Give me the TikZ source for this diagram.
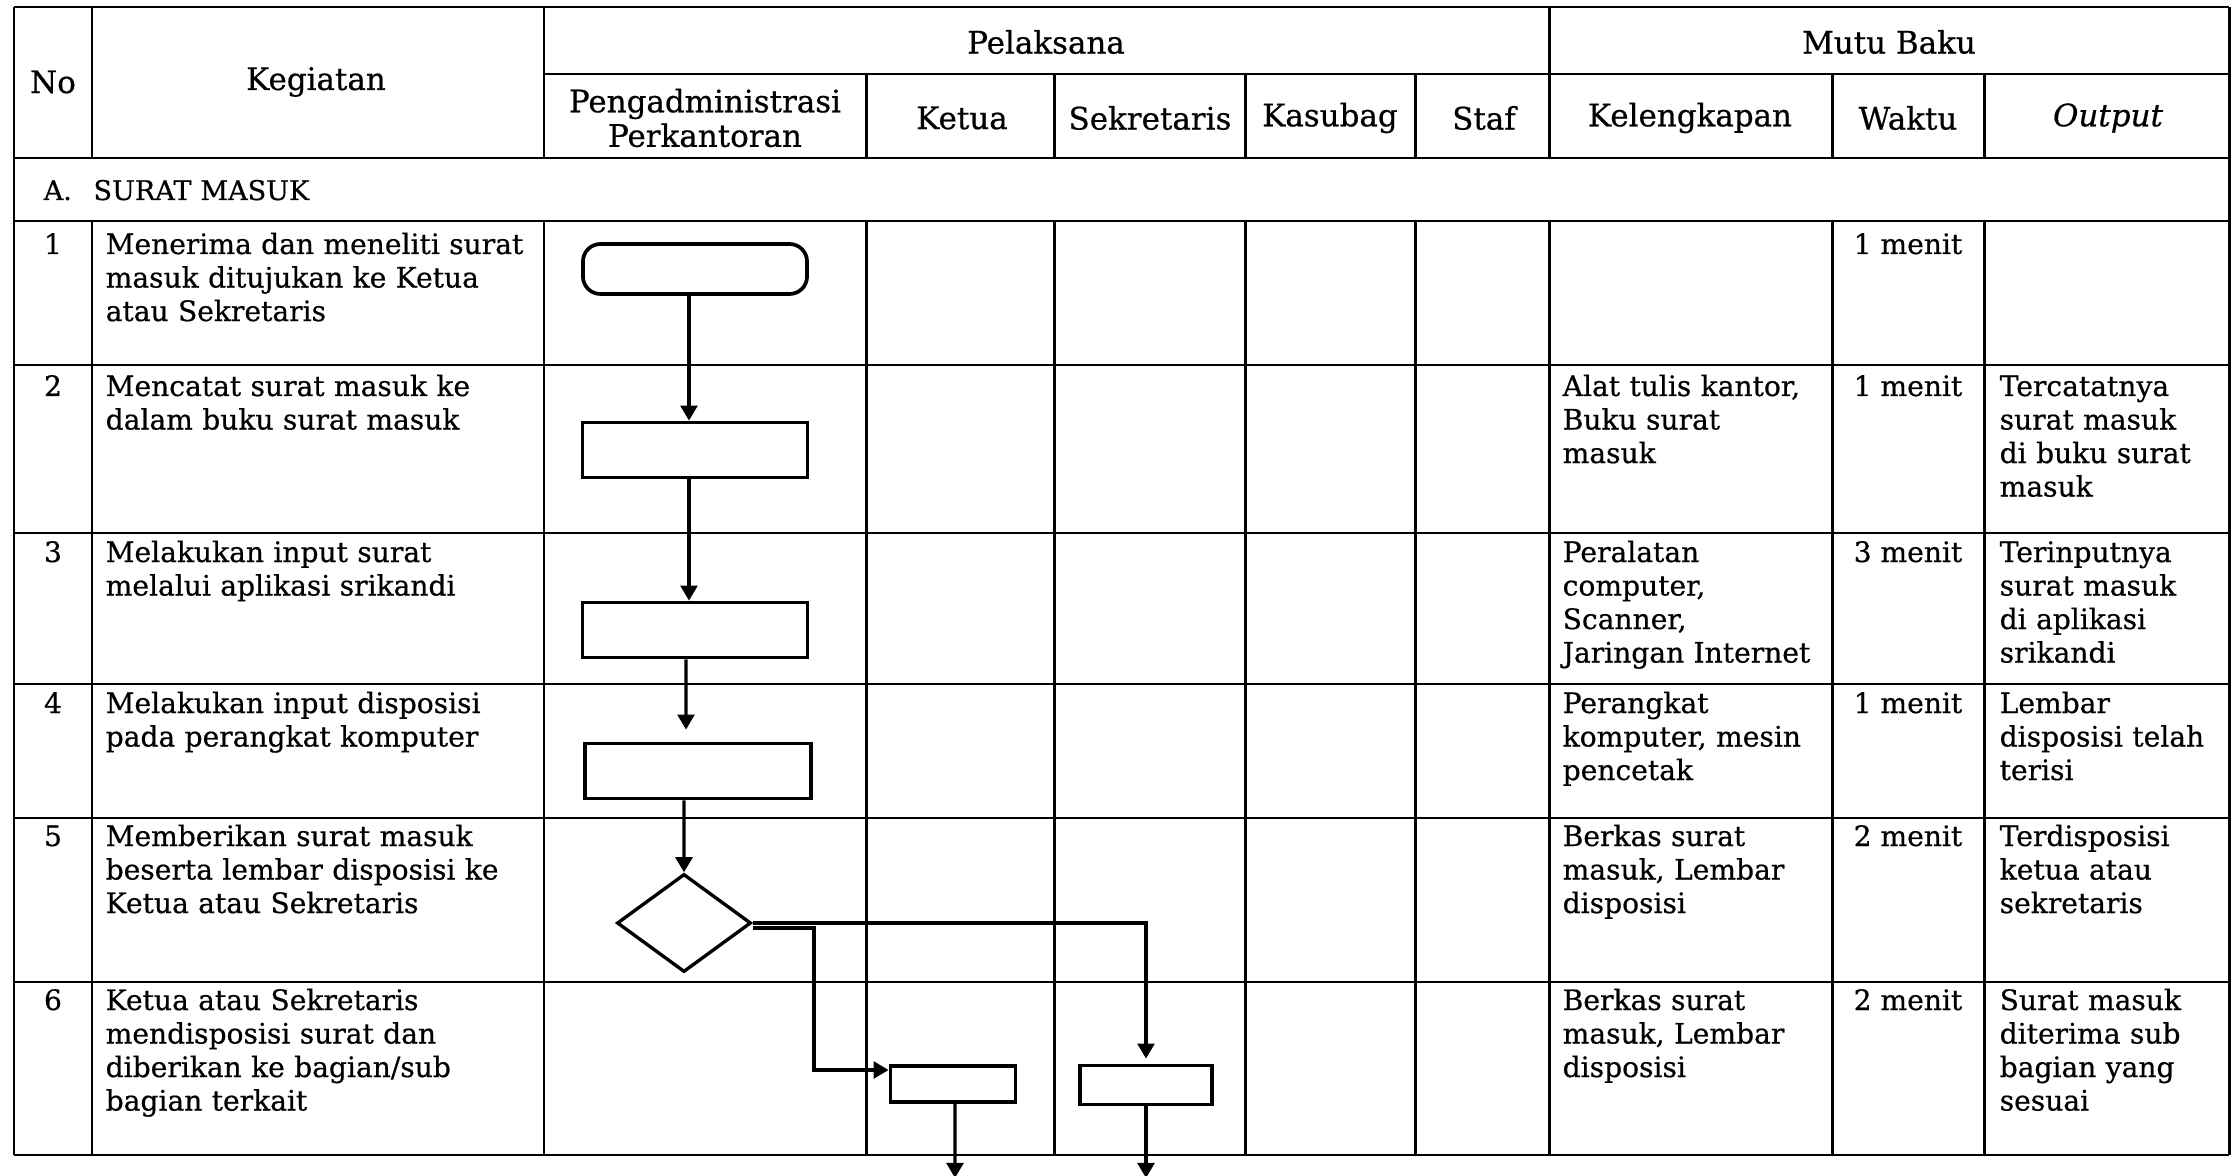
\documentclass[tikz,border=0pt]{standalone}
\usepackage{fontspec}
\setmainfont[FakeBold=0.6]{DejaVu Serif}
\usetikzlibrary{arrows.meta,shapes.geometric,calc}
\newcommand\bodyfnt{\fontsize{8}{9.53}\selectfont}
\newcommand\headfnt{\fontsize{8.8}{9.8}\selectfont}
\newcommand\secfnt{\fontsize{7.7}{9}\selectfont}
\begin{document}
\begin{tikzpicture}[x=0.01cm,y=-0.01cm,
  grid/.style={line width=0.85pt},
  proc/.style={draw,line width=1.05pt,fill=white,inner sep=0pt},
  arr/.style={line width=0.9pt,-{Triangle[length=4.3pt,width=4.8pt]}},
  txt/.style={anchor=base west,inner sep=0pt,align=left,text width=5cm,font=\bodyfnt},
  num/.style={anchor=base,inner sep=0pt,font=\bodyfnt},
  head/.style={inner sep=0pt,align=center,font=\headfnt}]
\useasboundingbox (0,0) rectangle (2232,1176);
% ---- table grid
\draw[grid] (14,7) -- (2229,7);
\draw[grid] (544,74) -- (2229,74);
\draw[grid] (14,158) -- (2229,158);
\draw[grid] (14,221) -- (2229,221);
\foreach \y in {365,533,684,818,982,1155} \draw[grid] (14,\y) -- (2229,\y);
\draw[grid] (14,7) -- (14,1155);
\draw[grid] (2229,7) -- (2229,1155);
\foreach \x in {92,544,1549} {\draw[grid] (\x,7) -- (\x,158); \draw[grid] (\x,221) -- (\x,1155);}
\foreach \x in {866,1054,1245,1415,1832,1984} {\draw[grid] (\x,74) -- (\x,158); \draw[grid] (\x,221) -- (\x,1155);}
% ---- header
\node[head] (hno) at (53,82) {No};
\node[head] (hkeg) at (316,82) {Kegiatan};
\node[head] (hpel) at (1046,42) {Pelaksana};
\node[head] (hmutu) at (1889,42) {Mutu Baku};
\node[head] (hpeng) at (705,118) {Pengadministrasi\\Perkantoran};
\node[head] (hket) at (962,118) {Ketua};
\node[head] (hsek) at (1150,118) {Sekretaris};
\node[head] (hkas) at (1330,118) {Kasubag};
\node[head] (hstaf) at (1484,118) {Staf};
\node[head] (hkel) at (1690,118) {Kelengkapan};
\node[head] (hwak) at (1908,118) {Waktu};
\node[head] (hout) at (2108,118) {\itshape Output};
\node[txt,font=\secfnt] (sec) at (43,200) {A.\hspace{0.8em}SURAT MASUK};
% ---- row texts
\node[num] (n1) at (53,254) {1};
\node[num] (n2) at (53,396) {2};
\node[num] (n3) at (53,562) {3};
\node[num] (n4) at (53,713) {4};
\node[num] (n5) at (53,846) {5};
\node[num] (n6) at (53,1010) {6};
\node[txt] (k1) at (105,254) {Menerima dan meneliti surat\\masuk ditujukan ke Ketua\\atau Sekretaris};
\node[txt] (k2) at (105,396) {Mencatat surat masuk ke\\dalam buku surat masuk};
\node[txt] (k3) at (105,562) {Melakukan input surat\\melalui aplikasi srikandi};
\node[txt] (k4) at (105,713) {Melakukan input disposisi\\pada perangkat komputer};
\node[txt] (k5) at (105,846) {Memberikan surat masuk\\beserta lembar disposisi ke\\Ketua atau Sekretaris};
\node[txt] (k6) at (105,1010) {Ketua atau Sekretaris\\mendisposisi surat dan\\diberikan ke bagian/sub\\bagian terkait};
\node[txt] (l2) at (1562,396) {Alat tulis kantor,\\Buku surat\\masuk};
\node[txt] (l3) at (1562,562) {Peralatan\\computer,\\Scanner,\\Jaringan Internet};
\node[txt] (l4) at (1562,713) {Perangkat\\komputer, mesin\\pencetak};
\node[txt] (l5) at (1562,846) {Berkas surat\\masuk, Lembar\\disposisi};
\node[txt] (l6) at (1562,1010) {Berkas surat\\masuk, Lembar\\disposisi};
\node[num] (w1) at (1908,254) {1 menit};
\node[num] (w2) at (1908,396) {1 menit};
\node[num] (w3) at (1908,562) {3 menit};
\node[num] (w4) at (1908,713) {1 menit};
\node[num] (w5) at (1908,846) {2 menit};
\node[num] (w6) at (1908,1010) {2 menit};
\node[txt] (o2) at (1999,396) {Tercatatnya\\surat masuk\\di buku surat\\masuk};
\node[txt] (o3) at (1999,562) {Terinputnya\\surat masuk\\di aplikasi\\srikandi};
\node[txt] (o4) at (1999,713) {Lembar\\disposisi telah\\terisi};
\node[txt] (o5) at (1999,846) {Terdisposisi\\ketua atau\\sekretaris};
\node[txt] (o6) at (1999,1010) {Surat masuk\\diterima sub\\bagian yang\\sesuai};
% ---- flow shapes
\node[proc,rounded corners=5pt,minimum width=2.24cm,minimum height=0.5cm] (b1) at (695,269) {};
\node[proc,minimum width=2.25cm,minimum height=0.55cm] (b2) at (695,450) {};
\node[proc,minimum width=2.25cm,minimum height=0.55cm] (b3) at (695,630) {};
\node[proc,minimum width=2.26cm,minimum height=0.55cm] (b4) at (698,771) {};
\node[draw,diamond,line width=0.95pt,fill=white,inner sep=0pt,minimum width=1.34cm,minimum height=0.98cm] (dia) at (684,923) {};
\node[proc,minimum width=1.25cm,minimum height=0.36cm] (kt) at (953,1084) {};
\node[proc,minimum width=1.32cm,minimum height=0.39cm] (sk) at (1146,1085) {};
\coordinate (bend) at (814,1070);
\coordinate (kout) at (955,1178);
\coordinate (sout) at (1146,1178);
% ---- connectors
\draw[arr] ([xshift=-0.06cm]b1.south) -- ([xshift=-0.06cm]b2.north);
\draw[arr] ([xshift=-0.06cm]b2.south) -- ([xshift=-0.06cm]b3.north);
\draw[arr,shorten >=0.12cm] ([xshift=-0.09cm]b3.south) -- ([xshift=-0.12cm]b4.north);
\draw[arr] ([xshift=-0.14cm]b4.south) -- (dia.north);
\draw[arr,shorten >=0.05cm] (dia.east) -| (sk.north);
\draw[arr] ([yshift=-0.05cm]dia.east) -| (bend) -- (bend -| kt.west);
\draw[arr] ([xshift=0.02cm]kt.south) -- (kout);
\draw[arr] (sk.south) -- (sout);
\end{tikzpicture}
\end{document}
